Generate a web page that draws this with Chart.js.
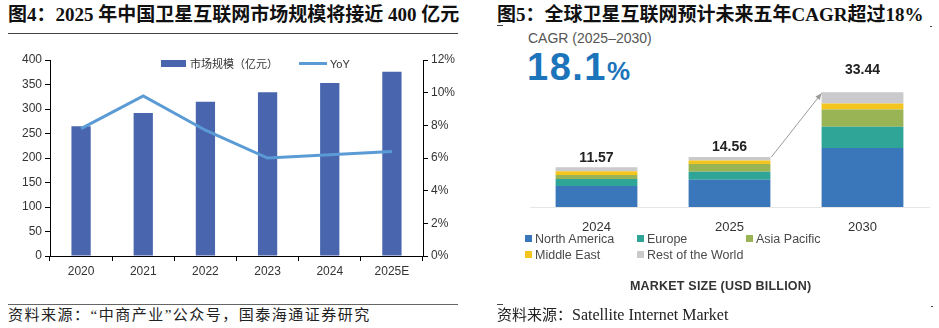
<!DOCTYPE html>
<html>
<head>
<meta charset="utf-8">
<script src="https://cdn.jsdelivr.net/npm/chart.js"></script>
<style>
  html, body { margin: 0; padding: 0; background: #fff; }
  body { width: 939px; height: 328px; position: relative; overflow: hidden; font-family: "Liberation Sans", Arial, "Noto Sans CJK SC", sans-serif; }
  .abs { position: absolute; }
  .title { font-family: "Liberation Serif", "Times New Roman", "Noto Sans CJK SC", serif; font-weight: bold; font-size: 19px; color: #111; white-space: nowrap; line-height: 22px; }
  .source { font-family: "Liberation Serif", "Times New Roman", "Noto Sans CJK SC", serif; font-size: 15px; color: #222; white-space: nowrap; line-height: 18px; }
  .rule { height: 1px; background: #444; }
  .legend-left { font-size: 11px; color: #333; line-height: 14px; white-space: nowrap; }
  .legend-right { font-size: 12.5px; color: #4a4a4a; line-height: 16px; white-space: nowrap; }
  .legend-right .sw { display: inline-block; width: 7px; height: 7px; margin-right: 3px; vertical-align: 1px; }
</style>
</head>
<body>

<div class="abs title" style="left:8px; top:4px;">图4：2025 年中国卫星互联网市场规模将接近 400 亿元</div>
<div class="abs rule" style="left:8px; top:33px; width:450px;"></div>

<div class="abs" id="leftBox" style="left:0px; top:40px; width:470px; height:250px;">
  <canvas id="leftChart"></canvas>
</div>
<div class="abs legend-left" id="leftLegend" style="left:161px; top:57px;"></div>

<div class="abs rule" style="left:8px; top:304px; width:450px; background:#666;"></div>
<div class="abs source" style="left:8px; top:306px; letter-spacing:1.5px;">资料来源：“中商产业”公众号，国泰海通证券研究</div>

<div class="abs title" style="left:497px; top:4px;">图5：全球卫星互联网预计未来五年CAGR超过18%</div>
<div class="abs rule" style="left:497px; top:25px; width:6px;"></div>
<div class="abs rule" style="left:930px; top:26px; width:2px;"></div>

<div class="abs" style="left:528px; top:30px; font-size:14px; color:#555; white-space:nowrap;">CAGR (2025–2030)</div>
<div class="abs" style="left:527px; top:45px; font-size:38px; font-weight:bold; color:#1c74bb; white-space:nowrap; letter-spacing:1.5px; line-height:44px;">18.1<span style="font-size:26px;">%</span></div>

<div class="abs" id="rightBox" style="left:490px; top:60px; width:449px; height:175px;">
  <canvas id="rightChart"></canvas>
</div>
<div class="abs legend-right" id="rightLegend" style="left:525px; top:231px; width:400px;"></div>
<div class="abs" style="left:630px; top:279px; font-size:12.5px; font-weight:bold; color:#333; white-space:nowrap; letter-spacing:0.2px;">MARKET SIZE (USD BILLION)</div>

<div class="abs rule" style="left:497px; top:304px; width:6px;"></div>
<div class="abs rule" style="left:931px; top:306px; width:2px;"></div>
<div class="abs source" style="left:497px; top:306px;">资料来源：<span style="font-size:16px;">Satellite Internet Market</span></div>

<script>
// ---- left chart data (图4) ----
const years = ['2020', '2021', '2022', '2023', '2024', '2025E'];
const marketSize = [265, 292, 315, 334, 353, 376];
const yoyGrowth = [7.8, 9.8, 7.7, 6.0, 6.2, 6.4];
const leftAxisTicks = [0, 400, 50];
const rightAxisTicks = [0, 12, 2];

// ---- right chart data (图5) ----
const periods = ['2024', '2025', '2030'];
const regionNames = ['North America', 'Europe', 'Asia Pacific', 'Middle East', 'Rest of the World'];
const northAmerica = [6.11, 7.91, 17.20];
const europe = [2.08, 2.37, 6.20];
const asiaPacific = [1.10, 2.28, 4.98];
const middleEast = [1.10, 0.99, 1.76];
const restOfWorld = [1.18, 1.01, 3.30];

const barBlue = '#4865ae';
const lineBlue = '#5b9bd5';
const regionColors = ['#3a77ba', '#2ea596', '#98b455', '#f4c51f', '#cacacd'];

Chart.defaults.font.family = '"Liberation Sans", Arial, "Noto Sans CJK SC", sans-serif';
Chart.defaults.animation = false;

// left legend
document.getElementById('leftLegend').innerHTML =
  '<span style="display:inline-block;width:25px;height:7px;background:' + barBlue + ';vertical-align:1px;margin-right:4px;"></span>市场规模（亿元）' +
  '<span style="display:inline-block;width:28px;height:3px;background:' + lineBlue + ';vertical-align:3px;margin-left:21px;margin-right:3px;"></span>YoY';

new Chart(document.getElementById('leftChart'), {
  data: {
    labels: years,
    datasets: [
      {
        type: 'line',
        label: 'YoY',
        data: yoyGrowth,
        yAxisID: 'y1',
        borderColor: lineBlue,
        borderWidth: 3,
        pointRadius: 0,
        tension: 0,
        order: 1
      },
      {
        type: 'bar',
        label: '市场规模（亿元）',
        data: marketSize,
        yAxisID: 'y',
        backgroundColor: barBlue,
        barPercentage: 0.31,
        categoryPercentage: 1,
        order: 2
      }
    ]
  },
  options: {
    responsive: true,
    maintainAspectRatio: false,
    layout: { padding: { top: 20 } },
    plugins: { legend: { display: false }, tooltip: { enabled: false } },
    scales: {
      x: {
        grid: { drawOnChartArea: false, tickLength: 5, color: '#000', offset: true },
        border: { color: '#000' },
        ticks: { color: '#333', font: { size: 12 }, padding: 3 },
        afterFit(s) { s.height = 34; }
      },
      y: {
        position: 'left',
        min: leftAxisTicks[0], max: leftAxisTicks[1],
        ticks: { stepSize: leftAxisTicks[2], color: '#333', font: { size: 12 }, padding: 3 },
        grid: { drawOnChartArea: false, tickLength: 5, color: '#000' },
        border: { color: '#000' },
        afterFit(s) { s.width = 50; }
      },
      y1: {
        position: 'right',
        min: rightAxisTicks[0], max: rightAxisTicks[1],
        ticks: { stepSize: rightAxisTicks[2], color: '#333', font: { size: 12 }, padding: 3, callback: v => v + '%' },
        grid: { drawOnChartArea: false, tickLength: 5, color: '#000' },
        border: { color: '#000' },
        afterFit(s) { s.width = 47; }
      }
    }
  }
});

// right legend, 3 columns
const legendCols = [0, 112, 221];
document.getElementById('rightLegend').innerHTML = regionNames.map((name, i) => {
  const col = legendCols[i % 3];
  const row = Math.floor(i / 3) * 16;
  return '<div style="position:absolute;left:' + col + 'px;top:' + row + 'px;"><span class="sw" style="background:' + regionColors[i] + '"></span>' + name + '</div>';
}).join('');

const regionSeries = [northAmerica, europe, asiaPacific, middleEast, restOfWorld];
const totals = periods.map((_, j) => regionSeries.reduce((s, arr) => s + arr[j], 0));

// totals on top + arrow 2025 -> 2030
const topLabels = {
  id: 'topLabels',
  afterDatasetsDraw(chart) {
    const ctx = chart.ctx;
    const yScale = chart.scales.y;
    const meta = chart.getDatasetMeta(regionSeries.length - 1);
    const lift = [9, 10, 22];
    ctx.save();
    ctx.font = 'bold 14px "Liberation Sans", Arial';
    ctx.fillStyle = '#222';
    ctx.textAlign = 'center';
    ctx.textBaseline = 'middle';
    totals.forEach((t, j) => {
      const bar = meta.data[j];
      ctx.fillText(t.toFixed(2), bar.x, yScale.getPixelForValue(t) - lift[j]);
    });
    // arrow
    const b1 = meta.data[1], b2 = meta.data[2];
    const x1 = b1.x + b1.width / 2 + 1, y1 = yScale.getPixelForValue(totals[1]);
    const x2 = b2.x - b2.width / 2, y2 = yScale.getPixelForValue(totals[2]) + 1;
    ctx.strokeStyle = '#9a9a9a';
    ctx.fillStyle = '#9a9a9a';
    ctx.lineWidth = 1;
    ctx.beginPath();
    ctx.moveTo(x1, y1);
    ctx.lineTo(x2, y2);
    ctx.stroke();
    const ang = Math.atan2(y2 - y1, x2 - x1);
    ctx.beginPath();
    ctx.moveTo(x2, y2);
    ctx.lineTo(x2 - 7 * Math.cos(ang - 0.4), y2 - 7 * Math.sin(ang - 0.4));
    ctx.lineTo(x2 - 7 * Math.cos(ang + 0.4), y2 - 7 * Math.sin(ang + 0.4));
    ctx.closePath();
    ctx.fill();
    ctx.restore();
  }
};

new Chart(document.getElementById('rightChart'), {
  type: 'bar',
  data: {
    labels: periods,
    datasets: regionSeries.map((arr, i) => ({
      label: regionNames[i],
      data: arr,
      backgroundColor: regionColors[i],
      barPercentage: 0.615,
      categoryPercentage: 1
    }))
  },
  options: {
    responsive: true,
    maintainAspectRatio: false,
    layout: { padding: { top: 20, left: 40, right: 10 } },
    plugins: { legend: { display: false }, tooltip: { enabled: false } },
    scales: {
      x: {
        stacked: true,
        grid: { display: false },
        border: { color: '#e6e6e6' },
        ticks: { color: '#333', font: { size: 13 }, padding: 5 },
        afterFit(s) { s.height = 28; }
      },
      y: {
        stacked: true,
        display: false,
        min: 0,
        max: 37
      }
    }
  },
  plugins: [topLabels]
});
</script>
</body>
</html>
